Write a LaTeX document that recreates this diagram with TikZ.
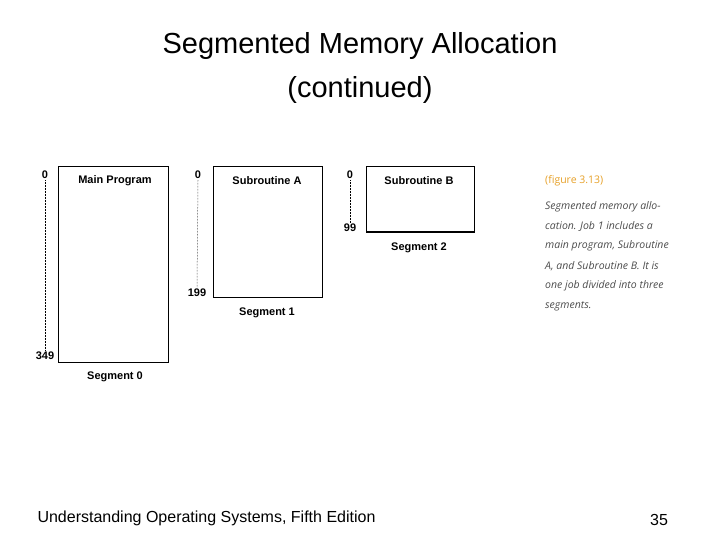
\documentclass[tikz,border=0pt]{standalone}
\usepackage{fontspec}
\setmainfont{Liberation Sans}
\newfontfamily\capfont{Open Sans}
\definecolor{figorange}{RGB}{230,160,40}
\begin{document}
\begin{tikzpicture}[x=1pt,y=-1pt,
  seg/.style={draw,line width=1pt},
  lab/.style={font=\fontsize{11}{12}\selectfont\bfseries},
  addr/.style={font=\fontsize{11}{12}\selectfont\bfseries,inner sep=1pt},
  dots/.style={densely dotted,line width=0.5pt},
  captext/.style={anchor=west,font=\capfont\itshape\fontsize{10.5}{12}\selectfont,text=black!70,inner sep=0}]
\useasboundingbox (0,0) rectangle (720,540);
\node (title) at (360,68) [align=center,font=\fontsize{29}{44}\selectfont] {Segmented Memory Allocation\\(continued)};
% boxes
\draw[seg] (58,167) rectangle (168,362);
\draw[seg] (213,167) rectangle (322,297);
\draw[seg] (366,167) rectangle (474,232);
\node[lab] (m) at (115,181) {Main Program};
\node[lab] (a) at (267,181) {Subroutine A};
\node[lab] (b) at (419,181) {Subroutine B};
\node[lab] (s0) at (115,377) {Segment 0};
\node[lab] (s1) at (267,313) {Segment 1};
\node[lab] (s2) at (419,248) {Segment 2};
% addresses
\node[addr] (z0) at (45,175) {0};
\node[addr] (e0) at (45,356) {349};
\node[addr] (z1) at (198,175) {0};
\node[addr] (e1) at (197,293) {199};
\node[addr] (z2) at (350,175) {0};
\node[addr] (e2) at (350,228) {99};
\draw[dots] (z0.south) -- (e0.north);
\draw[dots] (z1.south) -- (e1.north);
\draw[dots] (z2.south) -- (e2.north);
% caption
\node[captext,text=figorange,font=\capfont\fontsize{10.5}{12}\selectfont] (c0) at (545,181) {(figure 3.13)};
\node[captext] (c1) at (545,207) {Segmented memory allo-};
\node[captext] (c2) at (545,226) {cation. Job 1 includes a};
\node[captext] (c3) at (545,246) {main program, Subroutine};
\node[captext] (c4) at (545,266) {A, and Subroutine B. It is};
\node[captext] (c5) at (545,286) {one job divided into three};
\node[captext] (c6) at (545,306) {segments.};
% footer
\node[anchor=west,font=\fontsize{16}{18}\selectfont] (foot) at (34,518) {Understanding Operating Systems, Fifth Edition};
\node[font=\fontsize{16}{18}\selectfont] (pg) at (659,520) {35};
\end{tikzpicture}
\end{document}
